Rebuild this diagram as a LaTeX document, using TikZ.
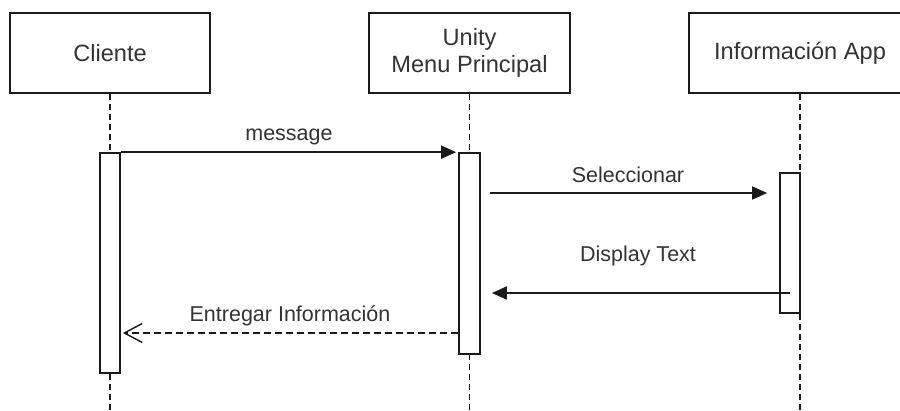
\documentclass[tikz,border=0pt]{standalone}
\usepackage{fontspec}
\setmainfont{Liberation Sans}
\usetikzlibrary{arrows.meta}
\definecolor{txt}{HTML}{333333}
\definecolor{ln}{HTML}{1A1A1A}
\begin{document}
\begin{tikzpicture}[x=1pt,y=-1pt,
  head/.style={draw=ln,line width=1.7pt,fill=white,minimum height=80pt,inner sep=0pt,align=center,text=txt,font=\fontsize{23.6}{27}\selectfont},
  act/.style={draw=ln,line width=1.7pt,fill=white,minimum width=20pt,inner sep=0pt},
  life/.style={draw=ln,line width=1.7pt,dash pattern=on 6pt off 4pt},
  msg/.style={draw=ln,line width=1.7pt,-{Triangle[length=15pt,width=13pt]}},
  ret/.style={draw=ln,line width=1.7pt,dash pattern=on 7pt off 4pt,-{Straight Barb[length=18pt,width=19pt,line width=1.4pt]}},
  lbl/.style={text=txt,inner sep=0pt,font=\fontsize{21.5}{24}\selectfont}]
\useasboundingbox (0,0) rectangle (900,410);
% lifelines
\coordinate (cb) at (110,410);
\coordinate (ub) at (469.5,410);
\coordinate (ib) at (800,410);
\node[head,minimum width=200pt] (c) at (110,53) {Cliente};
\node[head,minimum width=201pt] (u) at (469.5,53) {Unity\\Menu Principal};
\node[head,minimum width=222pt] (i) at (800,53) {Información App};
\draw[life] (c.south) -- (cb);
\draw[life] (u.south) -- (ub);
\draw[life] (i.south) -- (ib);
% activations
\node[act,minimum height=220pt] (ca) at (110,263) {};
\node[act,minimum width=21pt,minimum height=201pt] (ua) at (469.5,253.5) {};
\node[act,minimum height=140pt] (ia) at (790,243) {};
% message levels
\coordinate (y2) at (0,193);
\coordinate (y3) at (0,293);
\coordinate (y4) at (0,333);
% messages
\draw[msg,shorten >=2pt] (ca.north east) -- (ua.north west);
\node[lbl] (l1) at (289,137) {message};
\draw[msg,shorten <=9pt,shorten >=12pt] (ua.east |- y2) -- (ia.west |- y2);
\node[lbl] (l2) at (628,175) {Seleccionar};
\draw[msg,shorten >=11pt] (ia.center |- y3) -- (ua.east |- y3);
\node[lbl] (l3) at (638,256) {Display Text};
\draw[ret,shorten >=2pt] (ua.west |- y4) -- (ca.east |- y4);
\node[lbl] (l4) at (290,316) {Entregar Información};
\end{tikzpicture}
\end{document}
